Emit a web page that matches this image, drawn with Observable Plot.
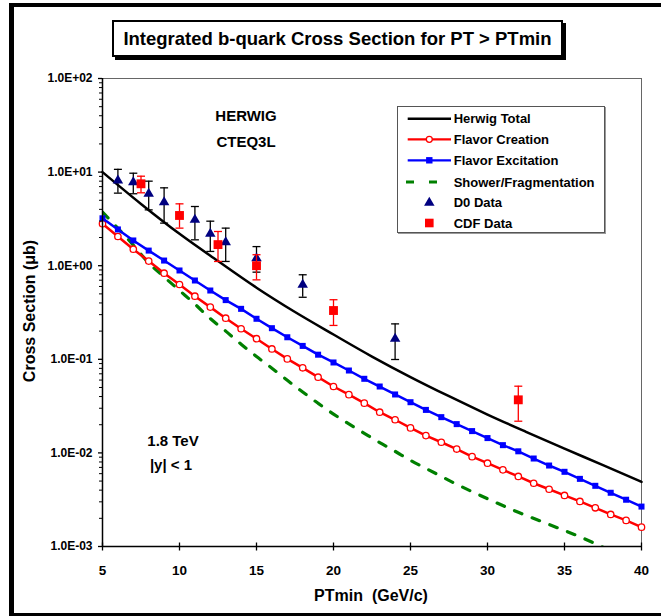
<!DOCTYPE html>
<html><head><meta charset="utf-8">
<script src="https://cdn.jsdelivr.net/npm/d3@7"></script>
<script src="https://cdn.jsdelivr.net/npm/@observablehq/plot@0.6"></script>
<style>
html,body{margin:0;padding:0;width:661px;height:616px;overflow:hidden;background:#fff;font-family:Arial,"Liberation Sans",sans-serif;}
#chart{position:absolute;left:0;top:0;}
#frame{position:absolute;left:9px;top:3px;width:700px;height:606px;border-left:5px solid #000;border-top:4px solid #000;border-bottom:4px solid #000;pointer-events:none;}
#title{position:absolute;left:112px;top:20px;width:447px;height:33px;border:2px solid #000;box-shadow:3px 3px 0 #000;background:#fff;text-align:center;line-height:33px;font-weight:bold;font-size:18.5px;white-space:nowrap;}
.lbl{position:absolute;font-weight:bold;white-space:pre;}
#legend{position:absolute;left:397px;top:106px;width:206px;height:125px;border:1px solid #555;box-shadow:1px 1px 0 #999;background:#fff;}
</style>
</head><body>
<div id="chart"></div>
<div id="frame"></div>
<div id="title">Integrated b-quark Cross Section for PT &gt; PTmin</div>
<div class="lbl" style="left:246px;top:115px;transform:translate(-50%,-50%);font-size:15px;">HERWIG</div>
<div class="lbl" style="left:246px;top:141px;transform:translate(-50%,-50%);font-size:15px;">CTEQ3L</div>
<div class="lbl" style="left:173px;top:440px;transform:translate(-50%,-50%);font-size:15px;">1.8 TeV</div>
<div class="lbl" style="left:171px;top:464px;transform:translate(-50%,-50%);font-size:15px;">|y| &lt; 1</div>
<div class="lbl" style="left:371px;top:596px;transform:translate(-50%,-50%);font-size:16px;">PTmin  (GeV/c)</div>
<div class="lbl" style="left:30px;top:311px;transform:translate(-50%,-50%) rotate(-90deg);font-size:16px;">Cross Section (μb)</div>
<div id="legend"></div>
<script>
// ---- data ----
const ptGrid = [5,6,7,8,9,10,11,12,13,14,15,16,17,18,19,20,21,22,23,24,25,26,27,28,29,30,31,32,33,34,35,36,37,38,39,40];
const flavorCreation = [2.81,2.05,1.50,1.12,0.832,0.630,0.472,0.361,0.275,0.212,0.166,0.129,0.101,0.0811,0.0644,0.0512,0.0419,0.0340,0.0272,0.0226,0.0185,0.0153,0.0130,0.0110,0.00912,0.00776,0.00659,0.00560,0.00474,0.00409,0.00351,0.00303,0.00259,0.00220,0.00190,0.00161];
const flavorExcitation = [3.21,2.44,1.86,1.45,1.135,0.889,0.695,0.543,0.429,0.346,0.271,0.215,0.172,0.139,0.112,0.0925,0.0759,0.0619,0.0512,0.0421,0.0348,0.0288,0.0241,0.0203,0.0171,0.0144,0.0121,0.0104,0.00871,0.00733,0.00628,0.00528,0.00445,0.00375,0.00316,0.00267];
const totalPt = [5,7.5,10,12.5,15,17.5,20,22.5,25,27.5,30,32.5,35,37.5,40];
const herwigTotal = [10.0,4.57,2.19,1.12,0.582,0.320,0.184,0.107,0.0646,0.0403,0.0257,0.0168,0.0111,0.00741,0.00490];
const showerPt = [5,6,7,8,9,10,11,12,13,14,15,16,17,18,19,20,21,22,23,24,25,26,28,30,32,34,36,38,40];
const showerFrag = [3.73,2.51,1.66,1.07,0.759,0.543,0.389,0.272,0.200,0.145,0.107,0.0804,0.0596,0.0447,0.0339,0.0260,0.0204,0.0162,0.0129,0.0104,0.00832,0.00684,0.00462,0.00324,0.00232,0.00172,0.00127,0.00090,0.00064];
const d0Pt = [6,7,8,9,11,12,13,15,18,24];
const d0Val = [8.13,7.80,5.87,4.77,3.09,2.19,1.78,1.20,0.625,0.166];
const d0Lo  = [5.96,5.87,3.95,2.85,1.89,1.42,1.11,0.853,0.46,0.0995];
const d0Hi  = [10.7,9.73,8.0,6.79,4.29,2.99,2.52,1.60,0.80,0.239];
const cdfPt = [7.5,10,12.5,15,20,32];
const cdfVal = [7.50,3.44,1.68,1.00,0.332,0.0369];
const cdfLo  = [6.01,2.52,1.11,0.706,0.230,0.0218];
const cdfHi  = [9.04,4.58,2.32,1.31,0.433,0.0516];
const xTicks = [5,10,15,20,25,30,35,40];
const yMajor = [1e-3,1e-2,1e-1,1,10,100];
const seriesNames = ["Herwig Total","Flavor Creation","Flavor Excitation","Shower/Fragmentation","D0 Data","CDF Data"];

// ---- tables ----
const creation = ptGrid.map((x,i)=>({x, y: flavorCreation[i]}));
const excitation = ptGrid.map((x,i)=>({x, y: flavorExcitation[i]}));
const total = totalPt.map((x,i)=>({x, y: herwigTotal[i]}));
const shower = showerPt.map((x,i)=>({x, y: showerFrag[i]}));
const d0 = d0Pt.map((x,i)=>({x, y: d0Val[i], lo: d0Lo[i], hi: d0Hi[i]}));
const cdf = cdfPt.map((x,i)=>({x, y: cdfVal[i], lo: cdfLo[i], hi: cdfHi[i]}));
const yMinor = [];
for (const m of yMajor.slice(0,-1)) for (let k=2;k<=9;k++) yMinor.push(m*k);

const hCap = {draw(ctx){ctx.moveTo(-4,0);ctx.lineTo(4,0);}};
const vTick = {draw(ctx){ctx.moveTo(0,-4);ctx.lineTo(0,4);}};
const fmt = d => { const e = Math.round(Math.log10(d)); return "1.0E" + (e>=0?"+":"-") + String(Math.abs(e)).padStart(2,"0"); };

const chart = Plot.plot({
  width: 661, height: 616,
  marginLeft: 102, marginRight: 20, marginTop: 78, marginBottom: 70,
  style: {background: "transparent", fontFamily: "Arial, 'Liberation Sans', sans-serif", color: "#000"},
  x: {domain: [5,40]},
  y: {type: "log", domain: [1e-3, 1e2]},
  marks: [
    Plot.frame({stroke: "#666", strokeWidth: 1}),
    Plot.line(shower, {x: "x", y: "y", stroke: "#008000", strokeWidth: 3.2, strokeDasharray: "8,11", curve: "monotone-x", clip: true}),
    Plot.line(creation, {x: "x", y: "y", stroke: "#ff0000", strokeWidth: 2.5}),
    Plot.dot(creation, {x: "x", y: "y", r: 3.2, fill: "white", stroke: "#ff0000", strokeWidth: 1.3}),
    Plot.line(excitation, {x: "x", y: "y", stroke: "#0000ff", strokeWidth: 2.5}),
    Plot.dot(excitation, {x: "x", y: "y", symbol: "square", r: 3.4, fill: "#0000ff"}),
    Plot.line(total, {x: "x", y: "y", stroke: "#000", strokeWidth: 2.5, curve: "monotone-x"}),
    Plot.ruleX(d0, {x: "x", y1: "lo", y2: "hi", stroke: "#000", strokeWidth: 1.3}),
    Plot.dot(d0, {x: "x", y: "lo", symbol: hCap, fill: "none", stroke: "#000", strokeWidth: 1.3}),
    Plot.dot(d0, {x: "x", y: "hi", symbol: hCap, fill: "none", stroke: "#000", strokeWidth: 1.3}),
    Plot.dot(d0, {x: "x", y: "y", symbol: "triangle", r: 3.9, fill: "#000080"}),
    Plot.ruleX(cdf, {x: "x", y1: "lo", y2: "hi", stroke: "#ff0000", strokeWidth: 1.3}),
    Plot.dot(cdf, {x: "x", y: "lo", symbol: hCap, fill: "none", stroke: "#ff0000", strokeWidth: 1.3}),
    Plot.dot(cdf, {x: "x", y: "hi", symbol: hCap, fill: "none", stroke: "#ff0000", strokeWidth: 1.3}),
    Plot.dot(cdf, {x: "x", y: "y", symbol: "square", r: 5, fill: "#ff0000"}),
    Plot.ruleX([5], {stroke: "#000", strokeWidth: 1.5}),
    Plot.ruleY([1e-3], {stroke: "#000", strokeWidth: 1.5}),
    Plot.axisY(yMajor, {tickSize: 4, tickPadding: 6, tickFormat: fmt, fontSize: 12, fontWeight: "bold", label: null, strokeWidth: 1.3}),
    Plot.axisY(yMinor, {tickSize: 3, tickFormat: () => "", label: null}),
    Plot.axisX(xTicks, {tickSize: 0, tickPadding: 19, fontSize: 13.5, fontWeight: "bold", label: null}),
    Plot.dot(xTicks, {x: d => d, frameAnchor: "bottom", symbol: vTick, fill: "none", stroke: "#000", strokeWidth: 1.3})
  ]
});
document.getElementById("chart").append(chart);

// ---- legend ----
const lg = d3.select("#legend").append("svg").attr("width", 206).attr("height", 125);
const rows = [11.7, 32.3, 53.3, 75, 95.7, 116];
const cx = 31.3;
lg.append("line").attr("x1",9.7).attr("x2",53).attr("y1",rows[0]).attr("y2",rows[0]).attr("stroke","#000").attr("stroke-width",2.5);
lg.append("line").attr("x1",9.7).attr("x2",53).attr("y1",rows[1]).attr("y2",rows[1]).attr("stroke","#f00").attr("stroke-width",2.2);
lg.append("circle").attr("cx",cx).attr("cy",rows[1]).attr("r",3).attr("fill","#fff").attr("stroke","#f00").attr("stroke-width",1.3);
lg.append("line").attr("x1",9.7).attr("x2",53).attr("y1",rows[2]).attr("y2",rows[2]).attr("stroke","#00f").attr("stroke-width",2.2);
lg.append("rect").attr("x",cx-3.2).attr("y",rows[2]-3.2).attr("width",6.4).attr("height",6.4).attr("fill","#00f");
lg.append("line").attr("x1",8).attr("x2",46).attr("y1",rows[3]).attr("y2",rows[3]).attr("stroke","#008000").attr("stroke-width",3.2).attr("stroke-dasharray","8,15");
lg.append("path").attr("d", d3.symbol(d3.symbolTriangle, Math.PI*3.9*3.9)()).attr("transform",`translate(${cx},${rows[4]})`).attr("fill","#000080");
lg.append("rect").attr("x",cx-4.3).attr("y",rows[5]-4.3).attr("width",8.6).attr("height",8.6).attr("fill","#f00");
seriesNames.forEach((n,i)=>{
  lg.append("text").attr("x",55.7).attr("y",rows[i]).attr("dy","0.36em").attr("font-size",13).attr("font-weight","bold").attr("font-family","Arial, 'Liberation Sans', sans-serif").text(n);
});
</script>
</body></html>
